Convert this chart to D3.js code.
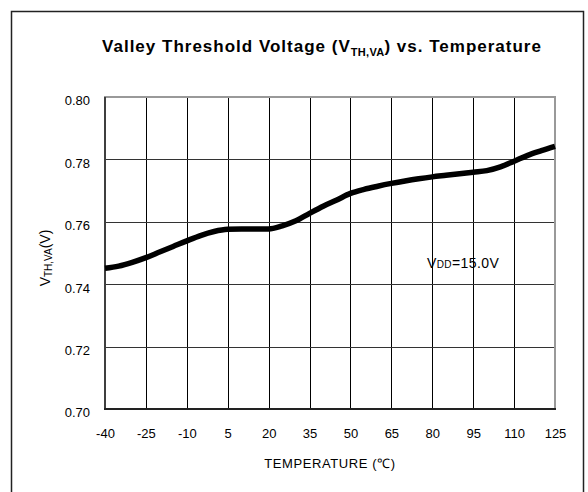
<!DOCTYPE html>
<html>
<head>
<meta charset="utf-8">
<script src="https://cdn.jsdelivr.net/npm/d3@7"></script>
<style>
body { margin: 0; background: #fff; }
svg { display: block; font-family: "Liberation Sans", Arial, sans-serif; }
</style>
</head>
<body>
<div class="chart"></div>
<script>
// temperature (C) and valley threshold voltage (V)
var temps = [-40,-35,-30,-25,-20,-15,-10,-5,0,5,10,15,20,25,30,35,40,45,50,55,60,65,70,75,80,85,90,95,100,105,110,115,120,125];
var vth = [0.7451,0.7458,0.7470,0.7485,0.7503,0.7521,0.7539,0.7556,0.7569,0.7576,0.7577,0.7577,0.7577,0.7587,0.7603,0.7627,0.7650,0.7670,0.7691,0.7704,0.7714,0.7723,0.7731,0.7738,0.7744,0.7749,0.7754,0.7759,0.7764,0.7776,0.7794,0.7813,0.7828,0.7842];
var xTicks = [-40,-25,-10,5,20,35,50,65,80,95,110,125];
var yTicks = [0.70,0.72,0.74,0.76,0.78,0.80];

var W = 588, H = 492;
var pLeft = 105, pRight = 555, pTop = 97, pBottom = 409;

var svg = d3.select('.chart')
	.append('svg')
	.attr('width', W)
	.attr('height', H);

// outer frame
svg.append('rect')
	.attr('x', 11.5).attr('y', 11.5)
	.attr('width', 572).attr('height', 500)
	.style('fill', 'none')
	.style('stroke', '#222')
	.style('stroke-width', 1.5);

var x = d3.scaleLinear().domain([-40, 125]).range([pLeft, pRight]);
var y = d3.scaleLinear().domain([0.70, 0.80]).range([pBottom, pTop]);

// grid
svg.append('g').selectAll('line')
	.data(xTicks.slice(1, -1))
	.enter().append('line')
	.attr('x1', function (d) { return Math.round(x(d)) + 0.5; })
	.attr('x2', function (d) { return Math.round(x(d)) + 0.5; })
	.attr('y1', pTop).attr('y2', pBottom)
	.style('stroke', '#000').style('stroke-width', 1);

svg.append('g').selectAll('line')
	.data(yTicks.slice(1, -1))
	.enter().append('line')
	.attr('y1', function (d) { return Math.round(y(d)) + 0.5; })
	.attr('y2', function (d) { return Math.round(y(d)) + 0.5; })
	.attr('x1', pLeft).attr('x2', pRight)
	.style('stroke', '#333').style('stroke-width', 1);

// plot border
svg.append('rect')
	.attr('x', pLeft).attr('y', pTop)
	.attr('width', pRight - pLeft).attr('height', pBottom - pTop)
	.style('fill', 'none')
	.style('stroke', '#999')
	.style('stroke-width', 2);
svg.append('line')
	.attr('x1', pLeft).attr('x2', pLeft).attr('y1', pTop).attr('y2', pBottom)
	.style('stroke', '#222').style('stroke-width', 1.5);
svg.append('line')
	.attr('x1', pLeft - 1).attr('x2', pRight + 1).attr('y1', pBottom).attr('y2', pBottom)
	.style('stroke', '#222').style('stroke-width', 2);

// axes labels
var xAxis = d3.axisBottom(x).tickValues(xTicks).tickSize(0).tickPadding(20)
	.tickFormat(function (d) { return String(d); });
var gx = svg.append('g').attr('transform', 'translate(0,' + pBottom + ')').call(xAxis);
gx.select('.domain').remove();
gx.selectAll('text').style('font-size', '13px').style('fill', '#000')
	.attr('font-family', null);

var yAxis = d3.axisLeft(y).tickValues(yTicks).tickSize(0).tickPadding(15)
	.tickFormat(d3.format('.2f'));
var gy = svg.append('g').attr('transform', 'translate(' + pLeft + ',0)').call(yAxis);
gy.select('.domain').remove();
gy.selectAll('text').style('font-size', '13px').style('fill', '#000')
	.attr('dy', '0.6em').attr('font-family', null);

// curve
var line = d3.line()
	.x(function (d, i) { return x(temps[i]); })
	.y(function (d) { return y(d); })
	.curve(d3.curveMonotoneX);

svg.append('path')
	.datum(vth)
	.attr('d', line)
	.style('fill', 'none')
	.style('stroke', '#000')
	.style('stroke-width', 5.5)
	.style('stroke-linejoin', 'round');

// title
var title = svg.append('text')
	.attr('x', 322).attr('y', 52)
	.attr('text-anchor', 'middle')
	.style('font-size', '17px')
	.style('letter-spacing', '1px')
	.style('font-weight', 'bold');
title.append('tspan').text('Valley Threshold Voltage (V');
title.append('tspan').attr('dy', 4).style('font-size', '11px').style('letter-spacing', '0.3px').text('TH,VA');
title.append('tspan').attr('dy', -4).text(') vs. Temperature');

// x axis title
svg.append('text')
	.attr('x', 330).attr('y', 468)
	.attr('text-anchor', 'middle')
	.style('font-size', '13px')
	.style('letter-spacing', '0.6px')
	.text('TEMPERATURE (\u2103)');

// y axis title
var yl = svg.append('text')
	.attr('transform', 'translate(50,258) rotate(-90)')
	.attr('text-anchor', 'middle')
	.style('font-size', '14px');
yl.append('tspan').text('V');
yl.append('tspan').attr('dy', 2).style('font-size', '10px').text('TH,VA');
yl.append('tspan').attr('dy', -2).text('(V)');

// condition note
var note = svg.append('text')
	.attr('x', 427).attr('y', 268)
	.style('font-size', '14px')
	.style('letter-spacing', '0.4px');
note.append('tspan').text('V');
note.append('tspan').style('font-size', '10px').text('DD');
note.append('tspan').text('=15.0V');
</script>
</body>
</html>
